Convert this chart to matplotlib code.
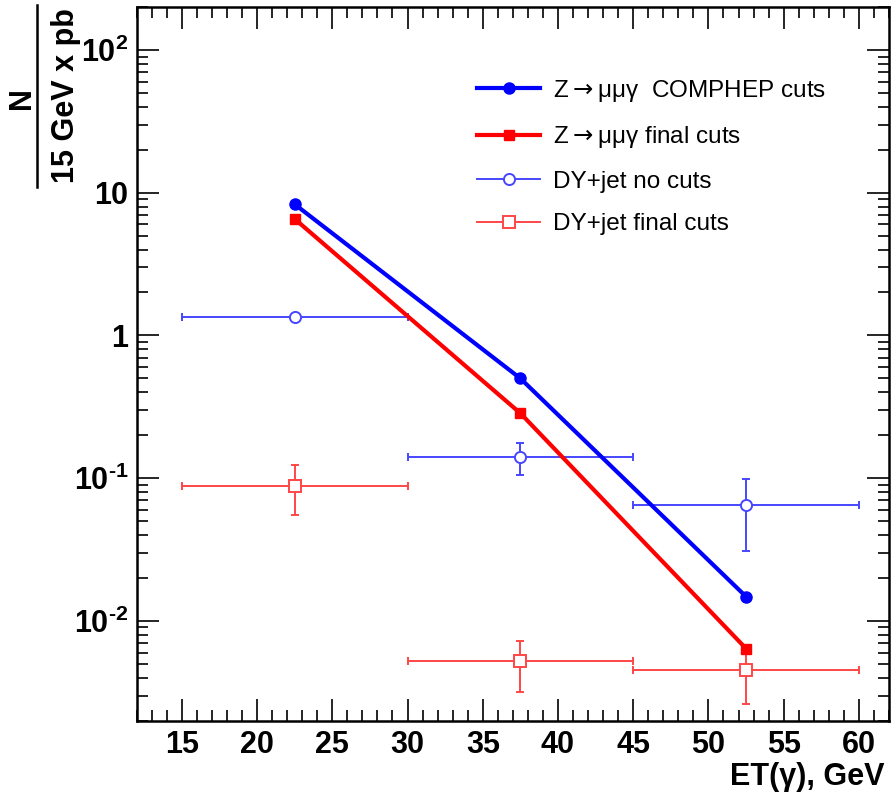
import numpy as np
import matplotlib
matplotlib.use('Agg')
import matplotlib.pyplot as plt
from matplotlib.lines import Line2D
from matplotlib.ticker import FixedLocator, LogLocator, NullFormatter, MultipleLocator

plt.rcParams['font.family'] = ['Liberation Sans', 'DejaVu Sans']
plt.rcParams['mathtext.fontset'] = 'custom'
plt.rcParams['mathtext.rm'] = 'Liberation Sans'
plt.rcParams['mathtext.bf'] = 'Liberation Sans:bold'
plt.rcParams['mathtext.sf'] = 'DejaVu Sans'

# Данные: центры бинов по ET(gamma)
et_bins = [22.5, 37.5, 52.5]
et_halfwidth = [7.5, 7.5, 7.5]

z_comphep = [8.3, 0.50, 0.0148]
z_final = [6.55, 0.285, 0.0064]

dy_nocuts = [1.34, 0.141, 0.065]
dy_nocuts_lo = [1.34, 0.106, 0.031]
dy_nocuts_hi = [1.34, 0.175, 0.098]

dy_final = [0.088, 0.0052, 0.0045]
dy_final_lo = [0.055, 0.0032, 0.0026]
dy_final_hi = [0.123, 0.0072, 0.0062]

legend_labels = [u'Z$\\mathsf{\\rightarrow}$\u03bc\u03bc\u03b3  COMPHEP cuts',
                 u'Z$\\mathsf{\\rightarrow}$\u03bc\u03bc\u03b3 final cuts',
                 'DY+jet no cuts',
                 'DY+jet final cuts']

blue = '#0000ff'
red = '#ff0000'
blue_thin = '#4646ff'
red_thin = '#ff4646'

fig = plt.figure(figsize=(8.92, 7.98), dpi=100)
ax = fig.add_axes([0.1533, 0.0969, 0.9966 - 0.1533, 0.9912 - 0.0969])

ax.set_yscale('log')
ax.set_xlim(12, 62)
ax.set_ylim(0.002, 200)

# ошибки DY+jet
def yerr(v, lo, hi):
    v = np.array(v); return [v - np.array(lo), np.array(hi) - v]

ax.errorbar(et_bins, dy_nocuts, xerr=et_halfwidth,
            yerr=yerr(dy_nocuts, dy_nocuts_lo, dy_nocuts_hi),
            fmt='o', color=blue_thin, mfc='white', mec=blue_thin, ms=8,
            mew=1.4, elinewidth=1.4, capsize=3, capthick=1.4, zorder=3)
ax.errorbar(et_bins, dy_final, xerr=et_halfwidth,
            yerr=yerr(dy_final, dy_final_lo, dy_final_hi),
            fmt='s', color=red_thin, mfc='white', mec=red_thin, ms=8,
            mew=1.4, elinewidth=1.4, capsize=3, capthick=1.4, zorder=3)

# кривые Z -> mu mu gamma
ax.plot(et_bins, z_comphep, '-o', color=blue, lw=3, ms=8, zorder=4)
ax.plot(et_bins, z_final, '-s', color=red, lw=3, ms=7.5, zorder=4)

# оси в стиле ROOT
ax.xaxis.set_minor_locator(MultipleLocator(1))
ax.set_xticks(np.arange(15, 61, 5))
ax.set_xticklabels([str(v) for v in range(15, 61, 5)])
ax.yaxis.set_major_locator(FixedLocator([0.01, 0.1, 1, 10, 100]))
ax.set_yticklabels([u'$\\mathbf{10^{\u2010 2}}$', u'$\\mathbf{10^{\u2010 1}}$', '1', '10',
                    r'$\mathbf{10^{2}}$'])
ax.yaxis.set_minor_locator(LogLocator(base=10, subs=np.arange(2, 10)))
ax.yaxis.set_minor_formatter(NullFormatter())

ax.tick_params(which='both', direction='in', top=True, right=True,
               width=1.2, labelsize=22)
ax.tick_params(which='major', length=16)
ax.tick_params(which='minor', length=8)
ax.tick_params(axis='x', pad=7)
ax.tick_params(axis='y', pad=6)
for lab in ax.get_xticklabels() + ax.get_yticklabels():
    lab.set_fontweight('bold')
for s in ax.spines.values():
    s.set_linewidth(1.8)

# подписи осей
fig.text(885 / 892, 1 - 777 / 798, u'ET(\u03b3), GeV', ha='right', va='center',
         fontsize=22, fontweight='bold')
fig.text(21.5 / 892, 1 - 98 / 798, 'N', rotation=90, ha='center', va='center',
         fontsize=22, fontweight='bold')
fig.text(66 / 892, 1 - 96 / 798, '15 GeV x pb', rotation=90, ha='center',
         va='center', fontsize=22, fontweight='bold')
fig.add_artist(Line2D([36.7 / 892, 36.7 / 892], [1 - 5 / 798, 1 - 187 / 798],
                      color='black', lw=1.8))

handles = [
    Line2D([], [], color=blue, lw=3, marker='o', ms=8),
    Line2D([], [], color=red, lw=3, marker='s', ms=7.5),
    Line2D([], [], color=blue_thin, lw=1.4, marker='o', ms=8, mfc='white', mew=1.4),
    Line2D([], [], color=red_thin, lw=1.4, marker='s', ms=8, mfc='white', mew=1.4),
]
ax.legend(handles, legend_labels, loc='upper left',
          bbox_to_anchor=(0.4523, 0.9008), frameon=False, fontsize=17.5,
          borderaxespad=0, borderpad=0, handlelength=2.6, handletextpad=0.53,
          labelspacing=0.84)

fig.savefig('out.png', dpi=100)
